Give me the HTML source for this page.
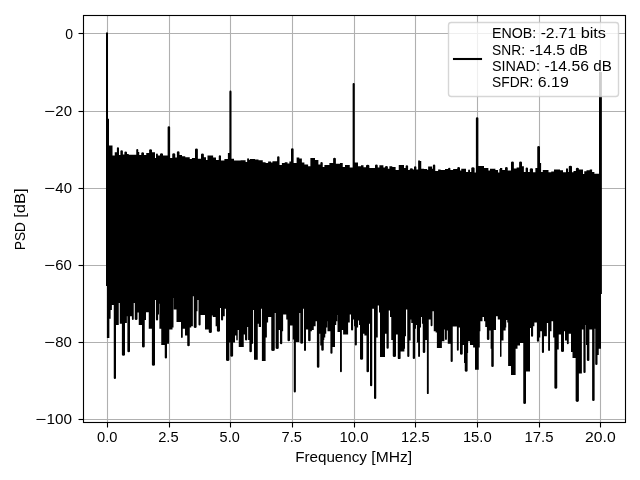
<!DOCTYPE html>
<html><head><meta charset="utf-8"><title>PSD</title>
<style>html,body{margin:0;padding:0;background:#fff;width:640px;height:480px;overflow:hidden}svg{display:block;will-change:transform}text{font-family:"Liberation Sans",sans-serif;font-size:14px;fill:#000}</style>
</head><body>
<svg width="640" height="480" viewBox="0 0 640 480">
<rect x="0" y="0" width="640" height="480" fill="#fff"/>
<g stroke="#b0b0b0" stroke-width="1.11" fill="none">
<line x1="107.5" y1="15.5" x2="107.5" y2="422.5"/>
<line x1="169.5" y1="15.5" x2="169.5" y2="422.5"/>
<line x1="230.5" y1="15.5" x2="230.5" y2="422.5"/>
<line x1="292.5" y1="15.5" x2="292.5" y2="422.5"/>
<line x1="354.5" y1="15.5" x2="354.5" y2="422.5"/>
<line x1="415.5" y1="15.5" x2="415.5" y2="422.5"/>
<line x1="477.5" y1="15.5" x2="477.5" y2="422.5"/>
<line x1="539.5" y1="15.5" x2="539.5" y2="422.5"/>
<line x1="600.5" y1="15.5" x2="600.5" y2="422.5"/>
<line x1="83.5" y1="33.5" x2="625.5" y2="33.5"/>
<line x1="83.5" y1="111.5" x2="625.5" y2="111.5"/>
<line x1="83.5" y1="188.5" x2="625.5" y2="188.5"/>
<line x1="83.5" y1="265.5" x2="625.5" y2="265.5"/>
<line x1="83.5" y1="342.5" x2="625.5" y2="342.5"/>
<line x1="83.5" y1="419.5" x2="625.5" y2="419.5"/>
</g>
<path fill="#000" d="M106 286 V32.9 A1.05 1.0 0 0 1 108 32.9 V118.75 H109 V145.62 H112.5 V155.62 H114.75 V152.25 H116.88 V148.3 A1.06 1.05 0 0 1 119 148.3 V155 H120.38 V151.3 A1.25 1.05 0 0 1 122.88 151.3 V154.38 H124.38 V152.55 A1.31 1.05 0 0 1 127 152.55 V154 H128.75 V154.75 H136.25 V150.05 A1 1.05 0 0 1 138.25 150.05 V151.88 H139.25 V155 H141.25 V153.3 A1.38 1.05 0 0 1 144 153.3 V155 H146.25 V153.12 H149.12 V150.18 A1.44 1.05 0 0 1 152 150.18 V152.25 H155 V158.12 H156 V154.55 A0.94 1.05 0 0 1 157.88 154.55 V155.62 H160 V154.18 A1.5 1.05 0 0 1 163 154.18 V155.62 H167.62 V127.3 A1.25 1.05 0 0 1 170.12 127.3 V158.12 H172.25 V154.18 A1.5 1.05 0 0 1 175.25 154.18 V157.5 H176.88 V152.3 A1.31 1.05 0 0 1 179.5 152.3 V155 H180 V155 H182 V156.25 H185.25 V157.25 H189.75 V159 H191.88 V158.12 H195 V149.55 A1.44 1.05 0 0 1 197.88 149.55 V158.75 H201 V154.55 A1.44 1.05 0 0 1 203.88 154.55 V157.25 H206 V160 H207.5 V155.62 H213.12 V157.5 H216 V160 H218.75 V156.3 A1.12 1.05 0 0 1 221 156.3 V160.62 H224.38 V159 H227.88 V153.12 H229.38 V91.67 A1.06 1.05 0 0 1 231.5 91.67 V158.75 H234 V160.62 H240.62 V160.25 H245.62 V161.88 H247.12 V159.1 A0.94 0.97 0 0 1 249 159.1 V159.75 H250 V159 H255 V159.38 H258.5 V160.25 H260 V160.25 H262.75 V162.25 H265.62 V163.12 H268.12 V161.5 H271 V162.5 H272.5 V161.25 H277.12 V157.3 A1.19 1.05 0 0 1 279.5 157.3 V165 H281.88 V163.12 H284.75 V162.25 H287.5 V163.5 H289.38 V161.5 H291 V149.18 A1.31 1.05 0 0 1 293.62 149.18 V163.12 H296.62 V157.5 H299.25 V158.5 H301.88 V162.5 H304.38 V164.38 H308.12 V166.25 H310.38 V158.12 H315 V160 H318.38 V164.38 H320.38 V162.93 A1.19 1.05 0 0 1 322.75 162.93 V166.88 H324.38 V165 H329.38 V163.12 H333.12 V158.8 A1.38 1.05 0 0 1 335.88 158.8 V163.75 H340 V163.12 H342.75 V166.88 H345 V165 H349.75 V167.5 H352.62 V84.05 A1.06 1.05 0 0 1 354.75 84.05 V162.5 H358 V166.25 H361 V165.25 H363.5 V167.25 H366 V165.8 A1.69 1.05 0 0 1 369.38 165.8 V168.12 H375 V165.43 A1.38 1.05 0 0 1 377.75 165.43 V167.5 H379.38 V165.25 H383.38 V167.5 H385 V166.9 A1.44 0.9 0 0 1 387.88 166.9 V168.75 H389.38 V166.25 H392.25 V166.88 H395.62 V170 H398.75 V165 H404 V168.12 H405.62 V166.3 A1.25 1.05 0 0 1 408.12 166.3 V170 H409.75 V168.88 A1.56 0.75 0 0 1 412.88 168.88 V169.38 H414 V167.3 A1.19 1.05 0 0 1 416.38 167.3 V169.38 H418.12 V160.62 H420 V161 H421.25 V168.75 H424.12 V169 H427.25 V170 H428.12 V166.5 H432.12 V168.75 H432.88 V165.43 A1.19 1.05 0 0 1 435.25 165.43 V171 H438.12 V169.38 H440.62 V170 H445 V169 H448.12 V168.5 A1.12 0.75 0 0 1 450.38 168.5 V170 H453.12 V169 H457.25 V167.93 A1.38 1.05 0 0 1 460 167.93 V170.62 H461.25 V168.75 H466 V171.88 H468.12 V170.43 A0.94 1.05 0 0 1 470 170.43 V171.88 H471.25 V168.3 A1.69 1.05 0 0 1 474.62 168.3 V172.5 H475.88 V118.3 A1.25 1.05 0 0 1 478.38 118.3 V166 H484 V168.12 H488.38 V170.62 H490 V168.75 H495.38 V170 H498 V172.5 H499.38 V169 H500 V168.12 H502.25 V170 H505 V167.93 A1.38 1.05 0 0 1 507.75 167.93 V170.62 H511 V162.55 A1.44 1.05 0 0 1 513.88 162.55 V168.5 H516.62 V167.5 H519.12 V162.55 A1.44 1.05 0 0 1 522 162.55 V166.25 H523.88 V171.88 H525.62 V168.55 A1.19 1.05 0 0 1 528 168.55 V171.88 H529.75 V169.18 A1.62 1.05 0 0 1 533 169.18 V172.25 H535.38 V168.12 H537.25 V147.05 A1.38 1.05 0 0 1 540 147.05 V163.12 H541.12 V171.88 H542.75 V170 H548.5 V172.25 H551.25 V171.5 H554 V169.38 H560 V170.25 H563 V172.25 H566 V169.18 A1 1.05 0 0 1 568 169.18 V171.88 H568.75 V166.68 A1.62 1.05 0 0 1 572 166.68 V172.25 H573.5 V171 H575.88 V168.72 A1.5 0.97 0 0 1 578.88 168.72 V169.38 H583 V174 H584.25 V171.25 H586.5 V170.25 H589.75 V169.38 H592.12 V171.88 H594.38 V173.75 H599 V72 H601.88 V294 H601 V348.75 H598.75 V355 H597.5 V363.95 A1.12 1.05 0 0 1 595.25 363.95 V328.75 H594.62 V399.95 A1.25 1.05 0 0 1 592.12 399.95 V329.38 H589.38 V359.95 A1.25 1.05 0 0 1 586.88 359.95 V345 H586 V325 H585.62 V371.95 A1.12 1.05 0 0 1 583.38 371.95 V329.38 H581.88 V373.5 H580 V373.5 H578.88 V400.85 A1.62 1.05 0 0 1 575.62 400.85 V358 H572.5 V352 H571 V333.75 H568.75 V343.32 A0.94 1.05 0 0 1 566.88 343.32 V340.62 H565 V331.25 H564 V350.95 A1.5 1.05 0 0 1 561 350.95 V334.38 H558.75 V349.5 H557.25 V387.85 A1.44 1.05 0 0 1 554.38 387.85 V337.5 H553.12 V321.25 H551.5 V331.25 H550 V349.95 A0.94 1.05 0 0 1 548.12 349.95 V323.12 H546.88 V336.25 H544 V351.95 A1.06 1.05 0 0 1 541.88 351.95 V331.25 H540.25 V337.5 H539 V340.82 A1.06 1.05 0 0 1 536.88 340.82 V322.5 H534.38 V326.25 H533.12 V335.82 A1.06 1.05 0 0 1 531 335.82 V328.12 H530 V371.5 H526 V402.95 A1.38 1.05 0 0 1 523.25 402.95 V343.12 H520 V345.62 H517.5 V348.75 H515.62 V375 H511 V366 H508.12 V322.5 H507.25 V320 H506.25 V327.5 H505.62 V330.62 H503.5 V340.62 H501.5 V355.95 A0.75 1.05 0 0 1 500 355.95 V319.38 H497.75 V316.25 H496 V330 H493.75 V365.95 A1.25 1.05 0 0 1 491.25 365.95 V348.75 H490.62 V330.62 H489.38 V338.95 A1.25 1.05 0 0 1 486.88 338.95 V326.88 H485.25 V321.25 H484 V316.88 H482.5 V321.25 H480.38 V331.25 H479.75 V347.5 H478.75 V369.8 H475 V347.5 H473.12 V345 H470 V341.25 H468.12 V353 H467.62 V370.75 A1.44 1.05 0 0 1 464.75 370.75 V363 H464 V345 H462.75 V353.75 A1.38 1.05 0 0 1 460 353.75 V327.5 H458.75 V349.7 A0.94 1.05 0 0 1 456.88 349.7 V326.5 H452.75 V360.95 A1.06 1.05 0 0 1 450.62 360.95 V343.75 H447.75 V330.62 H446.88 V338.95 A0.94 1.05 0 0 1 445 338.95 V329.38 H444.38 V341.25 H441.88 V348.12 H436.88 V332.5 H435.62 V331.25 H433.75 V311.25 H432.5 V325.2 A0.94 1.05 0 0 1 430.62 325.2 V319.38 H428.75 V393.15 A0.94 1.05 0 0 1 426.88 393.15 V340 H425.25 V351.95 A1.25 1.05 0 0 1 422.75 351.95 V323.75 H421.88 V316.88 H421 V327.5 H420 V355.95 A0.94 1.05 0 0 1 418.12 355.95 V342.5 H416.88 V325 H416 V328.75 H415 V357.95 A1.12 1.05 0 0 1 412.75 357.95 V323.12 H411.25 V319.38 H410.62 V340.62 H409.38 V355.95 A1.06 1.05 0 0 1 407.25 355.95 V309.38 H406 V336.25 H405 V348.75 H404.38 V351.5 H400.62 V358.15 A1.44 1.05 0 0 1 397.75 358.15 V334.38 H396 V355.95 A1.62 1.05 0 0 1 392.75 355.95 V340 H391.25 V316.88 H390 V310.62 H388.75 V347.7 A1.12 1.05 0 0 1 386.5 347.7 V333.75 H385 V357 H380 V312.5 H379 V305.62 H377.75 V337.5 H376.25 V397.95 A1.12 1.05 0 0 1 374 397.95 V308.75 H372.25 V385.15 A1.12 1.05 0 0 1 370 385.15 V323.75 H369 V371.15 A1.25 1.05 0 0 1 366.5 371.15 V335.62 H364.38 V333.75 H363.12 V358.75 A1.56 1.05 0 0 1 360 358.75 V325 H359 V320.62 H358.12 V327.5 H356.88 V344.57 A1.06 1.05 0 0 1 354.75 344.57 V326.25 H354 V319.38 H353.12 V329.57 A1.06 1.05 0 0 1 351 329.57 V314.38 H349.75 V322.5 H348.12 V334.38 H343.12 V330 H341.88 V371.15 A0.94 1.05 0 0 1 340 371.15 V331.88 H337.5 V315 H337.25 V321.25 H336.25 V325 H335 V346.88 H332.5 V352.75 A1.06 1.05 0 0 1 330.38 352.75 V331.25 H327.5 V321.25 H327.25 V327.5 H326.25 V333.75 H325.25 V337.5 H324.25 V340 H323.75 V349.75 A1.25 1.05 0 0 1 321.25 349.75 V345.62 H320.25 V333.75 H319.38 V366.75 A1.25 1.05 0 0 1 316.88 366.75 V321.25 H315.62 V326.25 H313.75 V330 H311.88 V331.25 H310.62 V340.2 A1.25 1.05 0 0 1 308.12 340.2 V329.38 H306 V349.95 A1 1.05 0 0 1 304 349.95 V308.75 H303.12 V342.7 A1.44 1.05 0 0 1 300.25 342.7 V313.12 H299.38 V341.88 H295.88 V391.45 A1.06 1.05 0 0 1 293.75 391.45 V339.38 H292.75 V325.62 H290 V340.2 A1.25 1.05 0 0 1 287.5 340.2 V319.38 H286.25 V314.38 H283.12 V331.25 H282.25 V343.32 A1.12 1.05 0 0 1 280 343.32 V330 H278.75 V347.95 A1.56 1.05 0 0 1 275.62 347.95 V313.12 H274.75 V349.95 A1.75 1.05 0 0 1 271.25 349.95 V316.88 H268.12 V322.5 H266.88 V337.5 H265.62 V361 H261.88 V308.75 H261 V326.88 H260 V326.88 H258.75 V323.75 H257.75 V359.8 H254 V310 H253.12 V343.75 H251.88 V351.15 A1.25 1.05 0 0 1 249.38 351.15 V340 H248.12 V326.88 H247.25 V339.57 A1.12 1.05 0 0 1 245 339.57 V334.38 H243.75 V346.88 H238.75 V330 H237.75 V339.57 A0.75 1.05 0 0 1 236.25 339.57 V335.62 H235 V342.5 H233.12 V355.75 A1.44 1.05 0 0 1 230.25 355.75 V342.5 H229.38 V359.95 A1.69 1.05 0 0 1 226 359.95 V308.75 H224.75 V316.25 H223.12 V319.57 A1.06 1.05 0 0 1 221 319.57 V308.12 H220 V330.82 A1.56 1.05 0 0 1 216.88 330.82 V326.25 H215.62 V316.88 H212.75 V315.62 H211.88 V332.07 A1.56 1.05 0 0 1 208.75 332.07 V329.38 H205 V315 H200.62 V324.57 A1.06 1.05 0 0 1 198.5 324.57 V300 H197.5 V311.25 H196.62 V327.07 A1.44 1.05 0 0 1 193.75 327.07 V296.25 H192.88 V326.25 H191.25 V327.5 H189.75 V345.2 A1.25 1.05 0 0 1 187.25 345.2 V335.62 H185 V328.75 H182.75 V337.07 A0.88 1.05 0 0 1 181 337.07 V321.88 H180 V321.88 H176.5 V309.38 H173.75 V298.12 H173.5 V327.5 H172.5 V329.38 H169 V343.75 H167 V357.55 A1.12 1.05 0 0 1 164.75 357.55 V345 H161.25 V328.75 H159.38 V303.75 H159 V314.38 H158.12 V319.57 A1.12 1.05 0 0 1 155.88 319.57 V300 H155 V364.75 A1.56 1.05 0 0 1 151.88 364.75 V328.75 H148.75 V312.25 H146 V320 H144.75 V346.45 A1.38 1.05 0 0 1 142 346.45 V325 H138.75 V312.5 H137.5 V318.95 A1.38 1.05 0 0 1 134.75 318.95 V303.12 H133.75 V318.95 A0.94 1.05 0 0 1 131.88 318.95 V316.25 H130 V351.25 A1.31 1.05 0 0 1 127.38 351.25 V316.25 H126.88 V323.12 H125 V354.75 A1.56 1.05 0 0 1 121.88 354.75 V323.75 H119.75 V303.12 H118.75 V325 H116 V377.95 A1.12 1.05 0 0 1 113.75 377.95 V305 H111.88 V310 H110.62 V318.75 H109.38 V338.12 H106.88 V286 H106 Z"/>
<g stroke="#000" stroke-width="1.11" fill="none" stroke-linecap="square">
<rect x="83.5" y="15.5" width="542" height="407"/>
</g>
<g stroke="#000" stroke-width="1.11" fill="none">
<line x1="107.5" y1="422.5" x2="107.5" y2="427.5"/>
<line x1="169.5" y1="422.5" x2="169.5" y2="427.5"/>
<line x1="230.5" y1="422.5" x2="230.5" y2="427.5"/>
<line x1="292.5" y1="422.5" x2="292.5" y2="427.5"/>
<line x1="354.5" y1="422.5" x2="354.5" y2="427.5"/>
<line x1="415.5" y1="422.5" x2="415.5" y2="427.5"/>
<line x1="477.5" y1="422.5" x2="477.5" y2="427.5"/>
<line x1="539.5" y1="422.5" x2="539.5" y2="427.5"/>
<line x1="600.5" y1="422.5" x2="600.5" y2="427.5"/>
<line x1="83.5" y1="33.5" x2="78.5" y2="33.5"/>
<line x1="83.5" y1="111.5" x2="78.5" y2="111.5"/>
<line x1="83.5" y1="188.5" x2="78.5" y2="188.5"/>
<line x1="83.5" y1="265.5" x2="78.5" y2="265.5"/>
<line x1="83.5" y1="342.5" x2="78.5" y2="342.5"/>
<line x1="83.5" y1="419.5" x2="78.5" y2="419.5"/>
</g>
<text x="97.1" y="442" textLength="20.4" lengthAdjust="spacingAndGlyphs">0.0</text>
<text x="158.2" y="442" textLength="20.4" lengthAdjust="spacingAndGlyphs">2.5</text>
<text x="219.6" y="442" textLength="20.1" lengthAdjust="spacingAndGlyphs">5.0</text>
<text x="281.5" y="442" textLength="20.4" lengthAdjust="spacingAndGlyphs">7.5</text>
<text x="339.5" y="442" textLength="29" lengthAdjust="spacingAndGlyphs">10.0</text>
<text x="401.1" y="442" textLength="28.6" lengthAdjust="spacingAndGlyphs">12.5</text>
<text x="462.9" y="442" textLength="28.8" lengthAdjust="spacingAndGlyphs">15.0</text>
<text x="524.5" y="442" textLength="29" lengthAdjust="spacingAndGlyphs">17.5</text>
<text x="585.02" y="442" textLength="30.62" lengthAdjust="spacingAndGlyphs">20.0</text>
<text x="65.3" y="39" textLength="7.8" lengthAdjust="spacingAndGlyphs">0</text>
<text y="116"><tspan x="44.03" textLength="10.9" lengthAdjust="spacingAndGlyphs">−</tspan><tspan x="55.33" textLength="16.68" lengthAdjust="spacingAndGlyphs">20</tspan></text>
<text y="193"><tspan x="44.03" textLength="10.9" lengthAdjust="spacingAndGlyphs">−</tspan><tspan x="55.33" textLength="16.68" lengthAdjust="spacingAndGlyphs">40</tspan></text>
<text y="270"><tspan x="43.91" textLength="10.9" lengthAdjust="spacingAndGlyphs">−</tspan><tspan x="55.21" textLength="16.68" lengthAdjust="spacingAndGlyphs">60</tspan></text>
<text y="347"><tspan x="43.91" textLength="10.9" lengthAdjust="spacingAndGlyphs">−</tspan><tspan x="55.21" textLength="16.68" lengthAdjust="spacingAndGlyphs">80</tspan></text>
<text y="424"><tspan x="35.16" textLength="10.9" lengthAdjust="spacingAndGlyphs">−</tspan><tspan x="46.46" textLength="25.52" lengthAdjust="spacingAndGlyphs">100</tspan></text>
<text y="462"><tspan x="295.2" textLength="71.75" lengthAdjust="spacingAndGlyphs">Frequency</tspan> <tspan x="371.35" textLength="40.75" lengthAdjust="spacingAndGlyphs">[MHz]</tspan></text>
<text y="0" transform="translate(24.5,250.1) rotate(-90)"><tspan x="0" textLength="27.88" lengthAdjust="spacingAndGlyphs">PSD</tspan> <tspan x="32.28" textLength="29.5" lengthAdjust="spacingAndGlyphs">[dB]</tspan></text>
<rect x="448.5" y="22.5" width="170" height="74" rx="2.78" ry="2.78" fill="#fff" fill-opacity="0.8" stroke="#ccc" stroke-opacity="0.8" stroke-width="1.39"/>
<line x1="452.96" y1="59" x2="482.05" y2="59" stroke="#000" stroke-width="2.08"/>
<text y="38"><tspan x="492" textLength="44.25" lengthAdjust="spacingAndGlyphs">ENOB:</tspan> <tspan x="540.65" textLength="35.62" lengthAdjust="spacingAndGlyphs">-2.71</tspan> <tspan x="580.67" textLength="25.38" lengthAdjust="spacingAndGlyphs">bits</tspan></text>
<text y="55"><tspan x="492" textLength="33" lengthAdjust="spacingAndGlyphs">SNR:</tspan> <tspan x="529.4" textLength="35.62" lengthAdjust="spacingAndGlyphs">-14.5</tspan> <tspan x="569.42" textLength="18.5" lengthAdjust="spacingAndGlyphs">dB</tspan></text>
<text y="71"><tspan x="492" textLength="48" lengthAdjust="spacingAndGlyphs">SINAD:</tspan> <tspan x="544.4" textLength="44.5" lengthAdjust="spacingAndGlyphs">-14.56</tspan> <tspan x="593.3" textLength="18.5" lengthAdjust="spacingAndGlyphs">dB</tspan></text>
<text y="87"><tspan x="492" textLength="41.38" lengthAdjust="spacingAndGlyphs">SFDR:</tspan> <tspan x="537.78" textLength="31" lengthAdjust="spacingAndGlyphs">6.19</tspan></text>
</svg></body></html>
